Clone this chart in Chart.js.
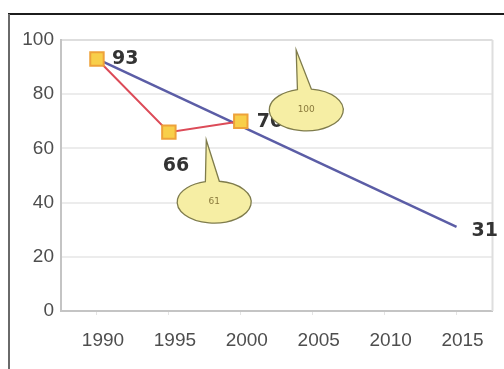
<!DOCTYPE html>
<html>
<head>
<meta charset="utf-8">
<script src="https://cdn.jsdelivr.net/npm/chart.js@4.4.1/dist/chart.umd.min.js"></script>
<style>
  html, body { margin: 0; padding: 0; background: #fff; }
  canvas { display: block; }
</style>
</head>
<body>
<canvas id="myChart" width="504" height="369"></canvas>
<script>
const years = ['1990', '1995', '2000', '2005', '2010', '2015'];
const actual = [93, 66, 70, null, null, null];
const trend = [93, null, null, null, null, 31];
const yTicks = [0, 20, 40, 60, 80, 100];

// callouts: text, ellipse centre and pointer tip in (category index, value)
const calloutTexts = ['100', '61'];
const calloutCentres = [[2.91, 74.2], [1.63, 40.2]];
const calloutTips = [[2.77, 96.3], [1.52, 63.1]];

// which points get a value label, and where it sits
const valueLabels = [
  { ds: 0, i: 0, dx: 15, dy: 0, align: 'left' },
  { ds: 0, i: 1, dx: 7, dy: 34, align: 'center' },
  { ds: 0, i: 2, dx: 16, dy: 1, align: 'left' },
  { ds: 1, i: 5, dx: 15, dy: 4, align: 'left' }
];

const framePlugin = {
  id: 'frame',
  beforeDraw(chart) {
    const c = chart.ctx;
    c.save();
    c.fillStyle = '#fff';
    c.fillRect(0, 0, chart.width, chart.height);
    c.lineWidth = 2;
    c.strokeStyle = '#1c1c1c';
    c.beginPath();
    c.moveTo(8, 14);
    c.lineTo(chart.width, 14);
    c.stroke();
    c.strokeStyle = '#6a6a6a';
    c.beginPath();
    c.moveTo(9, 14);
    c.lineTo(9, chart.height);
    c.stroke();
    c.restore();
  },
  beforeDatasetsDraw(chart) {
    const a = chart.chartArea;
    const c = chart.ctx;
    c.save();
    c.strokeStyle = '#dedede';
    c.lineWidth = 2;
    c.beginPath();
    c.moveTo(a.right, a.top);
    c.lineTo(a.right, a.bottom);
    c.stroke();
    c.restore();
  }
};

const labelPlugin = {
  id: 'valueLabels',
  afterDatasetsDraw(chart) {
    const c = chart.ctx;
    c.save();
    c.font = 'bold 19px "DejaVu Sans"';
    c.fillStyle = '#333';
    c.textBaseline = 'middle';
    valueLabels.forEach(l => {
      const pt = chart.getDatasetMeta(l.ds).data[l.i];
      const v = chart.data.datasets[l.ds].data[l.i];
      c.textAlign = l.align;
      c.fillText(String(v), pt.x + l.dx, pt.y + l.dy);
    });
    c.restore();
  }
};

const calloutPlugin = {
  id: 'callouts',
  afterDatasetsDraw(chart) {
    const c = chart.ctx;
    const xs = chart.scales.x, ys = chart.scales.y;
    const rx = 37, ry = 21;
    calloutTexts.forEach((txt, k) => {
      const cx = xs.getPixelForValue(calloutCentres[k][0]);
      const cy = ys.getPixelForValue(calloutCentres[k][1]);
      const tx = xs.getPixelForValue(calloutTips[k][0]);
      const ty = ys.getPixelForValue(calloutTips[k][1]);
      c.save();
      c.beginPath();
      c.ellipse(cx, cy, rx, ry, 0, -Math.PI / 2 + 0.14, -Math.PI / 2 - 0.24 + Math.PI * 2);
      c.lineTo(tx, ty);
      c.closePath();
      c.fillStyle = '#f6eea4';
      c.fill();
      c.strokeStyle = '#7f7c4c';
      c.lineWidth = 1.3;
      c.stroke();
      c.fillStyle = '#8a7a3c';
      c.font = '9px "DejaVu Sans"';
      c.textAlign = 'center';
      c.textBaseline = 'middle';
      c.fillText(txt, cx, cy);
      c.restore();
    });
  }
};

const ctx = document.getElementById('myChart').getContext('2d');
new Chart(ctx, {
  type: 'line',
  data: {
    labels: years,
    datasets: [
      {
        data: actual,
        borderColor: '#dc4b58',
        borderWidth: 2,
        pointStyle: 'rect',
        pointRadius: 9.5,
        pointBackgroundColor: '#f8cf4a',
        pointBorderColor: '#eea23a',
        pointBorderWidth: 2,
        order: 0
      },
      {
        data: trend,
        borderColor: '#5b5da6',
        borderWidth: 2.5,
        pointRadius: 0,
        spanGaps: true,
        order: 1
      }
    ]
  },
  options: {
    responsive: false,
    animation: false,
    layout: { padding: { top: 40, right: 7, left: 0, bottom: 0 } },
    plugins: {
      legend: { display: false },
      tooltip: { enabled: false }
    },
    scales: {
      x: {
        type: 'category',
        offset: true,
        grid: {
          drawOnChartArea: false,
          tickLength: 4,
          color: '#e4e4e4'
        },
        border: { color: '#c4c4c4', width: 2 },
        ticks: {
          color: '#4e4e4e',
          font: { family: '"Liberation Sans"', size: 19 },
          padding: 14,
          labelOffset: 6,
          maxRotation: 0
        },
        afterFit(scale) { scale.height = 58; }
      },
      y: {
        min: 0,
        max: 100,
        afterBuildTicks(scale) { scale.ticks = yTicks.map(v => ({ value: v })); },
        grid: {
          drawTicks: false,
          lineWidth: 2,
          color: c => c.tick && c.tick.value === 100 ? '#dedede' : '#ececec'
        },
        border: { color: '#c4c4c4', width: 2 },
        ticks: {
          color: '#4e4e4e',
          font: { family: '"Liberation Sans"', size: 19 },
          padding: 7
        },
        afterFit(scale) { scale.width = 61; }
      }
    }
  },
  plugins: [framePlugin, labelPlugin, calloutPlugin]
});
</script>
</body>
</html>
